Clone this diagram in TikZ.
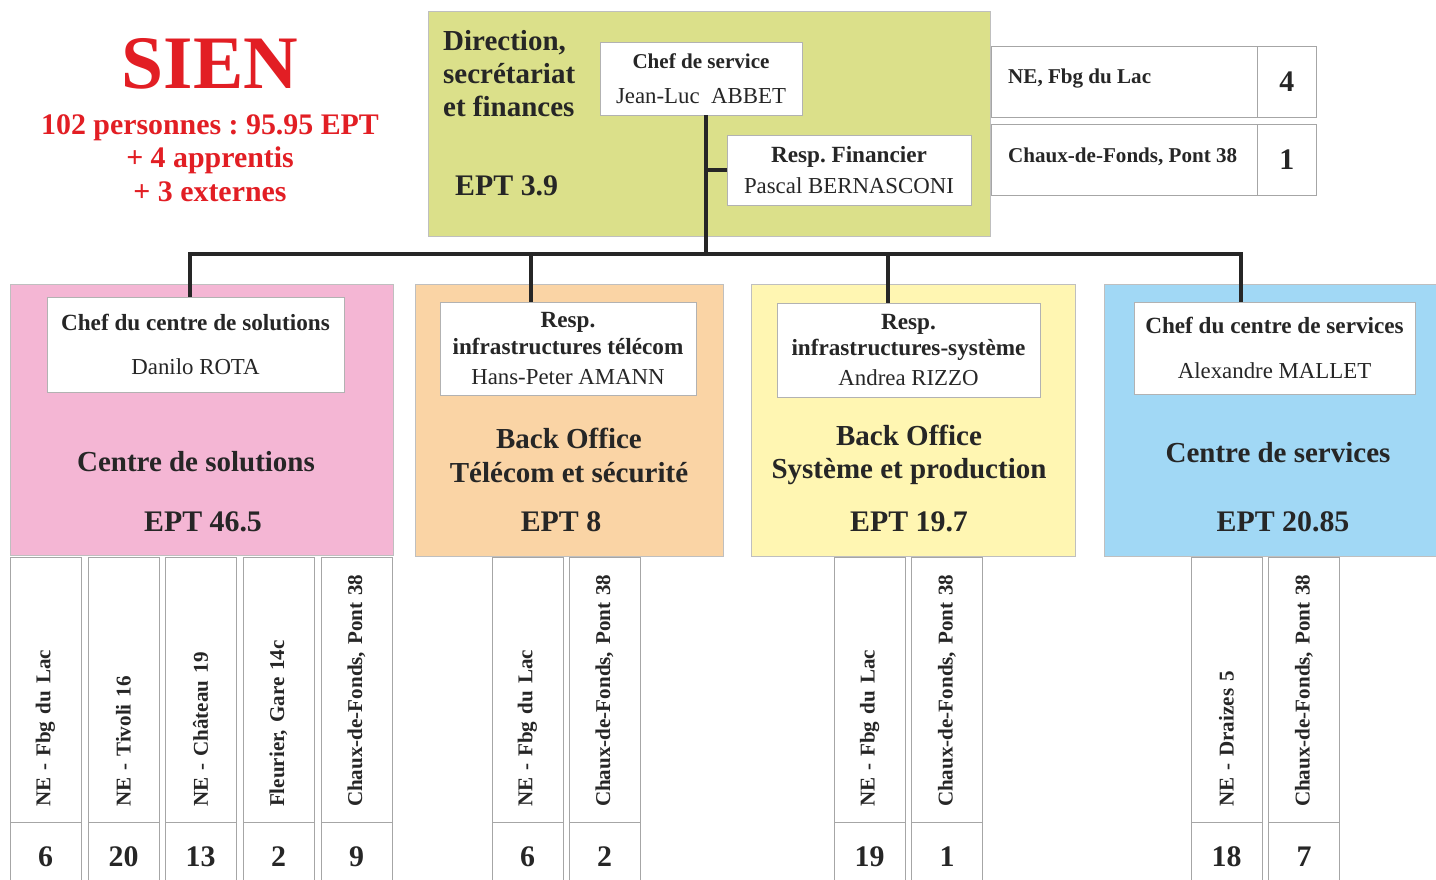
\documentclass[tikz,border=0pt]{standalone}
\usepackage{fontspec}
\setmainfont{Liberation Serif}
\usepackage{tikz}

\definecolor{sienred}{RGB}{226,30,36}
\definecolor{dirgreen}{RGB}{219,224,138}
\definecolor{solpink}{RGB}{244,182,212}
\definecolor{telorange}{RGB}{250,212,165}
\definecolor{sysyellow}{RGB}{255,246,178}
\definecolor{servblue}{RGB}{161,216,245}

\newcommand{\role}[1]{{\fontsize{13.2}{15}\selectfont\bfseries #1}}
\frenchspacing

\begin{document}
\begin{tikzpicture}[x=0.02cm, y=-0.02cm, every node/.style={text=black!85}]
    % Styles
    \tikzstyle{deptbox} = [rectangle, draw=black!25, anchor=north west, inner sep=0pt]
    \tikzstyle{headbox} = [rectangle, draw=black!30, fill=white, align=center, inner sep=0pt, font=\fontsize{13}{15}\selectfont]
    \tikzstyle{depttitle} = [align=center, font=\fontsize{16.5}{19}\selectfont\bfseries]
    \tikzstyle{ept} = [font=\fontsize{17}{19}\selectfont\bfseries]
    \tikzstyle{sitecell} = [rectangle, draw=black!35, fill=white, anchor=north west, inner sep=0pt]
    \tikzstyle{loc} = [rectangle, draw=black!35, rotate=90, minimum width=5.3cm, minimum height=1.42cm, inner xsep=0.3cm, text width=4.7cm, align=left, font=\fontsize{12}{14}\selectfont\bfseries]
    \tikzstyle{headcount} = [rectangle, draw=black!35, minimum width=1.42cm, minimum height=1.38cm, font=\fontsize{17}{19}\selectfont\bfseries]
    \tikzstyle{conn} = [line width=2pt, draw=black!85]

    \useasboundingbox (0,0) rectangle (1436,879);

    % Title
    \node[text=sienred, font=\fontsize{43}{45}\selectfont\bfseries] (sien) at (210,64) {SIEN};
    \node[text=sienred, align=center, font=\fontsize{17}{19}\selectfont\bfseries] (total) at (210,158) {102 personnes : 95.95 EPT\\ + 4 apprentis\\ + 3 externes};

    % Direction
    \node[deptbox, fill=dirgreen, minimum width=11.24cm, minimum height=4.5cm] (dir) at (428,11) {};
    \node[depttitle, anchor=west, align=left] (dirname) at (437,73.5) {Direction,\\ secrétariat\\ et finances};
    \node[ept, anchor=west] (dirept) at (449,186) {EPT 3.9};
    \node[headbox, minimum width=4.04cm, minimum height=1.46cm] (chef) at (701,78.5) {{\fontsize{12}{14}\selectfont\bfseries Chef de service}\\[5pt] Jean-Luc\ \ ABBET};
    \node[headbox, minimum width=4.88cm, minimum height=1.4cm] (fin) at (849,170) {\role{Resp. Financier}\\[3pt] Pascal BERNASCONI};

    % Direction sites
    \node[sitecell, minimum width=5.32cm, minimum height=1.42cm] (dirsite1) at (991,46) {};
    \node[sitecell, minimum width=1.18cm, minimum height=1.42cm, font=\fontsize{17}{19}\selectfont\bfseries] (dirnum1) at (1257,46) {4};
    \node[anchor=west, font=\fontsize{12}{14}\selectfont\bfseries] (dirloc1) at ([xshift=0.22cm, yshift=0.06cm]dirsite1.west) {NE, Fbg du Lac};
    \node[sitecell, minimum width=5.32cm, minimum height=1.42cm] (dirsite2) at (991,124) {};
    \node[sitecell, minimum width=1.18cm, minimum height=1.42cm, font=\fontsize{17}{19}\selectfont\bfseries] (dirnum2) at (1257,124) {1};
    \node[anchor=west, font=\fontsize{12}{14}\selectfont\bfseries] (dirloc2) at ([xshift=0.22cm, yshift=0.06cm]dirsite2.west) {Chaux-de-Fonds, Pont 38};

    % Departments
    \node[deptbox, fill=solpink, minimum width=7.66cm, minimum height=5.42cm] (soln) at (10,284) {};
    \node[headbox, minimum width=5.94cm, minimum height=1.9cm] (solnhead) at (195.5,344.5) {\role{Chef du centre de solutions}\\[10pt] Danilo ROTA};
    \node[depttitle] (solnname) at (196,462) {Centre de solutions};
    \node[ept] (solnept) at (203,522) {EPT 46.5};

    \node[deptbox, fill=telorange, minimum width=6.16cm, minimum height=5.44cm] (tel) at (415,284) {};
    \node[headbox, minimum width=5.12cm, minimum height=1.86cm] (telhead) at (568,348.5) {\role{Resp.}\\ \role{infrastructures télécom}\\[2pt] Hans-Peter AMANN};
    \node[depttitle] (telname) at (569,455.5) {Back Office\\ Télécom et sécurité};
    \node[ept] (telept) at (561,522) {EPT 8};

    \node[deptbox, fill=sysyellow, minimum width=6.48cm, minimum height=5.44cm] (sys) at (751,284) {};
    \node[headbox, minimum width=5.26cm, minimum height=1.88cm] (syshead) at (908.5,350) {\role{Resp.}\\ \role{infrastructures-système}\\[2pt] Andrea RIZZO};
    \node[depttitle] (sysname) at (909,455) {Back Office\\ Système et production};
    \node[ept] (sysept) at (909,522) {EPT 19.7};

    \node[deptbox, fill=servblue, minimum width=6.76cm, minimum height=5.44cm] (serv) at (1104,284) {};
    \node[headbox, minimum width=5.62cm, minimum height=1.84cm] (servhead) at (1274.5,348) {\role{Chef du centre de services}\\[10.5pt] Alexandre MALLET};
    \node[depttitle] (servname) at (1278,453) {Centre de services};
    \node[ept] (servept) at (1283,522) {EPT 20.85};

    % Sites - Centre de solutions
    \node[loc] (sol1) at (45.5,689.5) {NE - Fbg du Lac};
    \node[loc] (sol2) at (123.5,689.5) {NE - Tivoli 16};
    \node[loc] (sol3) at (200.5,689.5) {NE - Château 19};
    \node[loc] (sol4) at (278.5,689.5) {Fleurier, Gare 14c};
    \node[loc] (sol5) at (356.5,689.5) {Chaux-de-Fonds, Pont 38};
    \node[headcount] (soln1) at (45.5,856.5) {6};
    \node[headcount] (soln2) at (123.5,856.5) {20};
    \node[headcount] (soln3) at (200.5,856.5) {13};
    \node[headcount] (soln4) at (278.5,856.5) {2};
    \node[headcount] (soln5) at (356.5,856.5) {9};

    % Sites - Back Office Telecom
    \node[loc] (tel1) at (527.5,689.5) {NE - Fbg du Lac};
    \node[loc] (tel2) at (604.5,689.5) {Chaux-de-Fonds, Pont 38};
    \node[headcount] (teln1) at (527.5,856.5) {6};
    \node[headcount] (teln2) at (604.5,856.5) {2};

    % Sites - Back Office Systeme
    \node[loc] (sys1) at (869.5,689.5) {NE - Fbg du Lac};
    \node[loc] (sys2) at (947,689.5) {Chaux-de-Fonds, Pont 38};
    \node[headcount] (sysn1) at (869.5,856.5) {19};
    \node[headcount] (sysn2) at (947,856.5) {1};

    % Sites - Centre de services
    \node[loc] (serv1) at (1226.5,689.5) {NE - Draizes 5};
    \node[loc] (serv2) at (1304,689.5) {Chaux-de-Fonds, Pont 38};
    \node[headcount] (servn1) at (1226.5,856.5) {18};
    \node[headcount] (servn2) at (1304,856.5) {7};

    % Lines
    \coordinate (top) at (706,254);
    \coordinate (b1) at (190,254);
    \coordinate (b2) at (531,254);
    \coordinate (b3) at (888,254);
    \coordinate (b4) at (1241,254);
    \draw[conn] (chef.south -| top) -- (top);
    \draw[conn] (fin.west -| top) -- (fin.west);
    \draw[conn] (b1 |- solnhead.north) -- (b1) -- (b4) -- (b4 |- servhead.north);
    \draw[conn] (b2) -- (b2 |- telhead.north);
    \draw[conn] (b3) -- (b3 |- syshead.north);
\end{tikzpicture}
\end{document}
